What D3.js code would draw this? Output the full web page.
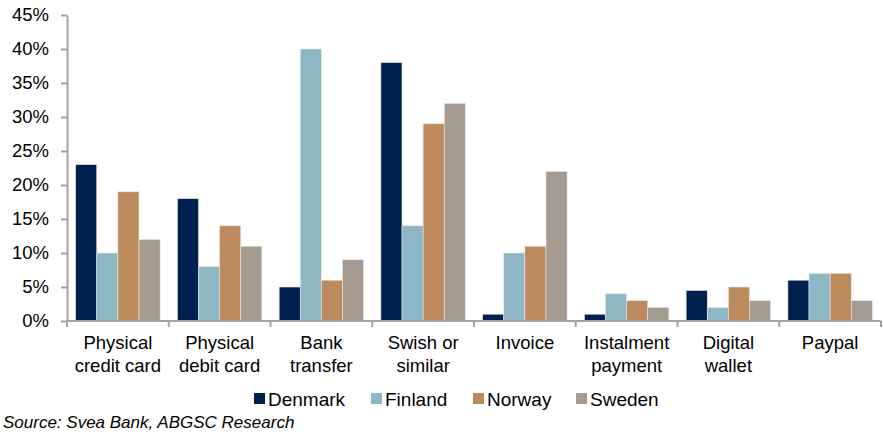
<!DOCTYPE html>
<html>
<head>
<meta charset="utf-8">
<script src="https://cdn.jsdelivr.net/npm/d3@7"></script>
<style>
  body { margin: 0; background: #fff; }
  svg { font-family: "Liberation Sans", Arial, sans-serif; }
</style>
</head>
<body>
<svg id="chart" width="883" height="432"></svg>
<script>
// categories, two lines each
var categories = [
  ["Physical", "credit card"],
  ["Physical", "debit card"],
  ["Bank", "transfer"],
  ["Swish or", "similar"],
  ["Invoice"],
  ["Instalment", "payment"],
  ["Digital", "wallet"],
  ["Paypal"]
];
var countries = ["Denmark", "Finland", "Norway", "Sweden"];
var colors    = ["#00214f", "#8eb7c5", "#bd8a5d", "#a59b91"];

// share in %, one array per country
var denmark = [23, 18, 5, 38, 1, 1, 4.5, 6];
var finland = [10, 8, 40, 14, 10, 4, 2, 7];
var norway  = [19, 14, 6, 29, 11, 3, 5, 7];
var sweden  = [12, 11, 9, 32, 22, 2, 3, 3];
var yTicks  = [0, 5, 10, 15, 20, 25, 30, 35, 40, 45];

var series = [denmark, finland, norway, sweden];

var svg = d3.select("#chart");

// plot box (note: "top" is taken by window.top)
var plot_left = 67, plot_right = 881, plot_top = 15, plot_bottom = 321;

var x0 = d3.scaleBand()
  .domain(d3.range(categories.length))
  .range([plot_left, plot_right])
  .paddingInner(0.17)
  .paddingOuter(0.085);

var x1 = d3.scaleBand()
  .domain(d3.range(countries.length))
  .range([0, x0.bandwidth()]);

var y = d3.scaleLinear().domain([0, 45]).range([plot_bottom, plot_top]);

// bars
var groups = svg.append("g").selectAll("g")
  .data(categories)
  .enter().append("g")
  .attr("transform", function (d, i) { return "translate(" + x0(i) + ",0)"; });

groups.selectAll("rect")
  .data(function (d, i) {
    return series.map(function (s, k) { return { k: k, v: s[i] }; });
  })
  .enter().append("rect")
  .attr("x", function (d) { return x1(d.k); })
  .attr("y", function (d) { return y(d.v); })
  .attr("width", x1.bandwidth())
  .attr("height", function (d) { return plot_bottom - y(d.v); })
  .attr("fill", function (d) { return colors[d.k]; })
  .attr("stroke", "#e8e8e8")
  .attr("stroke-width", 0.6);

// y axis, short ticks on the outside
var yAxis = svg.append("g")
  .attr("transform", "translate(" + plot_left + ",0)")
  .call(d3.axisLeft(y).tickValues(yTicks).tickSizeInner(6).tickSizeOuter(0).tickPadding(12)
    .tickFormat(function (d) { return d + "%"; }));
yAxis.select(".domain").attr("stroke", "#a3a3a6").attr("stroke-width", 2);
yAxis.selectAll(".tick line").attr("stroke", "#a3a3a6").attr("stroke-width", 2);
yAxis.selectAll("text").attr("font-size", 18.5).attr("fill", "#000")
  .attr("font-family", "Liberation Sans, Arial, sans-serif");

// x axis line and ticks between categories
var xTicks = d3.range(categories.length + 1).map(function (i) {
  return plot_left + (plot_right - plot_left) * i / categories.length;
});
svg.append("line")
  .attr("x1", plot_left - 1).attr("x2", plot_right)
  .attr("y1", plot_bottom).attr("y2", plot_bottom)
  .attr("stroke", "#a3a3a6").attr("stroke-width", 2);
svg.append("g").selectAll("line")
  .data(xTicks)
  .enter().append("line")
  .attr("x1", function (d) { return d; })
  .attr("x2", function (d) { return d; })
  .attr("y1", plot_bottom).attr("y2", plot_bottom + 6)
  .attr("stroke", "#a3a3a6").attr("stroke-width", 2);

// category labels
var catLabels = svg.append("g").selectAll("text")
  .data(categories)
  .enter().append("text")
  .attr("text-anchor", "middle")
  .attr("font-size", 18.5)
  .attr("fill", "#000")
  .attr("transform", function (d, i) {
    return "translate(" + (x0(i) + x0.bandwidth() / 2) + ",349)";
  });
catLabels.selectAll("tspan")
  .data(function (d) { return d; })
  .enter().append("tspan")
  .attr("x", 0)
  .attr("dy", function (d, i) { return i === 0 ? 0 : 23; })
  .text(function (d) { return d; });

// legend
var legendX = [254, 371, 473, 576];
var legend = svg.append("g").selectAll("g")
  .data(countries)
  .enter().append("g")
  .attr("transform", function (d, i) { return "translate(" + legendX[i] + ",393)"; });
legend.append("rect")
  .attr("width", 11).attr("height", 11)
  .attr("fill", function (d, i) { return colors[i]; });
legend.append("text")
  .attr("x", 14).attr("y", 12.5)
  .attr("font-size", 19)
  .attr("fill", "#000")
  .text(function (d) { return d; });

// source note
svg.append("text")
  .attr("x", 3).attr("y", 428)
  .attr("font-size", 17)
  .attr("font-style", "italic")
  .attr("fill", "#000")
  .text("Source: Svea Bank, ABGSC Research");
</script>
</body>
</html>
